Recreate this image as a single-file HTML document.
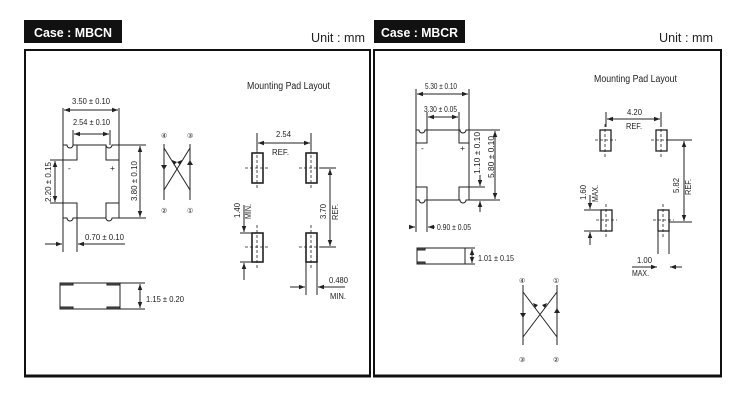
<!DOCTYPE html>
<html><head><style>
body{margin:0;background:#fff;width:739px;height:412px;overflow:hidden}
svg{display:block}
text{font-family:"Liberation Sans",sans-serif;fill:#222}
</style></head><body>
<svg width="739" height="412" viewBox="0 0 739 412" xmlns="http://www.w3.org/2000/svg">
<defs>
<marker id="a" viewBox="0 0 8 8" refX="8" refY="4" markerWidth="6" markerHeight="6" orient="auto-start-reverse"><path d="M0,1 L8,4 L0,7z" fill="#222"/></marker>
</defs>
<rect x="24" y="20" width="98" height="23" fill="#111"/>
<text x="34" y="37" font-size="13" font-weight="bold" style="fill:#fff" textLength="78" lengthAdjust="spacingAndGlyphs">Case : MBCN</text>
<text x="311" y="42" font-size="13" textLength="54" lengthAdjust="spacingAndGlyphs">Unit : mm</text>
<rect x="374" y="20" width="91" height="23" fill="#111"/>
<text x="381" y="37" font-size="13" font-weight="bold" style="fill:#fff" textLength="77" lengthAdjust="spacingAndGlyphs">Case : MBCR</text>
<text x="659" y="42" font-size="13" textLength="54" lengthAdjust="spacingAndGlyphs">Unit : mm</text>
<rect x="25" y="50" width="345" height="326" fill="none" stroke="#111" stroke-width="2"/>
<line x1="24" y1="376" x2="371" y2="376" stroke="#111" stroke-width="3"/>
<rect x="374" y="50" width="347" height="326" fill="none" stroke="#111" stroke-width="2"/>
<line x1="373" y1="376" x2="722" y2="376" stroke="#111" stroke-width="3"/>

<g stroke="#222" stroke-width="1" fill="none">
<path d="M63,145 H67 A3,3 0 0 0 73,145 H106 A3,3 0 0 0 112,145 H119 V218 H112 A3,3 0 0 1 106,218 H73 A3,3 0 0 1 67,218 H63Z"/>
<path d="M63,160 H77 V145 M119,160 H106 V145 M63,203 H77 V218 M119,203 H106 V218"/>
<line x1="63" y1="108" x2="63" y2="145"/><line x1="119" y1="108" x2="119" y2="145"/>
<line x1="64" y1="110" x2="118" y2="110" marker-start="url(#a)" marker-end="url(#a)"/>
<line x1="73" y1="130" x2="73" y2="145"/><line x1="110" y1="130" x2="110" y2="145"/>
<line x1="74" y1="134" x2="109" y2="134" marker-start="url(#a)" marker-end="url(#a)"/>
<line x1="119" y1="145" x2="146" y2="145"/><line x1="119" y1="218" x2="146" y2="218"/>
<line x1="140" y1="146" x2="140" y2="217" marker-start="url(#a)" marker-end="url(#a)"/>
<line x1="50" y1="160" x2="63" y2="160"/><line x1="50" y1="203" x2="63" y2="203"/>
<line x1="55" y1="161" x2="55" y2="202" marker-start="url(#a)" marker-end="url(#a)"/>
<line x1="63" y1="218" x2="63" y2="252"/><line x1="77" y1="218" x2="77" y2="252"/>
<line x1="45" y1="244" x2="62" y2="244" marker-end="url(#a)"/>
<line x1="125" y1="244" x2="78" y2="244" marker-end="url(#a)"/>
<rect x="60" y="283" width="60" height="26"/>
<rect x="60" y="283" width="13" height="2" fill="#555"/><rect x="107" y="283" width="13" height="2" fill="#555"/>
<rect x="60" y="307" width="13" height="2" fill="#555"/><rect x="107" y="307" width="13" height="2" fill="#555"/>
<line x1="120" y1="283" x2="145" y2="283"/><line x1="120" y1="309" x2="145" y2="309"/>
<line x1="140" y1="284" x2="140" y2="308" marker-start="url(#a)" marker-end="url(#a)"/>
<path d="M164,144 V200 M190,144 V200 M164,148 L190,190 M190,148 L164,190"/>
<rect x="252" y="153" width="11" height="30" stroke-width="1.6"/>
<rect x="306" y="153" width="11" height="30" stroke-width="1.6"/>
<rect x="252" y="233" width="11" height="29" stroke-width="1.6"/>
<rect x="306" y="233" width="11" height="29" stroke-width="1.6"/>
<g stroke-dasharray="3,2" stroke-width="0.8">
<path d="M257,145 V190 M245,168 H270 M311,145 V190 M299,168 H324 M257,225 V270 M245,247 H270 M311,225 V270 M299,247 H324"/></g>
<line x1="257" y1="133" x2="257" y2="150"/><line x1="311" y1="133" x2="311" y2="150"/>
<line x1="258" y1="143" x2="310" y2="143" marker-start="url(#a)" marker-end="url(#a)"/>
<line x1="320" y1="168" x2="336" y2="168"/><line x1="320" y1="247" x2="336" y2="247"/>
<line x1="330" y1="169" x2="330" y2="246" marker-start="url(#a)" marker-end="url(#a)"/>
<line x1="240" y1="233" x2="252" y2="233"/><line x1="240" y1="262" x2="252" y2="262"/>
<line x1="244" y1="205" x2="244" y2="232" marker-end="url(#a)"/>
<line x1="244" y1="280" x2="244" y2="263" marker-end="url(#a)"/>
<line x1="306" y1="262" x2="306" y2="295"/><line x1="317" y1="262" x2="317" y2="295"/>
<line x1="290" y1="287" x2="305" y2="287" marker-end="url(#a)"/>
<line x1="345" y1="287" x2="318" y2="287" marker-end="url(#a)"/>

<path d="M416,130 H419 A3,3 0 0 0 425,130 H460 A3,3 0 0 0 466,130 H469 V200 H466 A3,3 0 0 1 460,200 H425 A3,3 0 0 1 419,200 H416Z"/>
<path d="M416,143 H427 V130 M469,143 H459 V130 M416,187 H427 V200 M469,187 H459 V200"/>
<line x1="416" y1="89" x2="416" y2="130"/><line x1="469" y1="89" x2="469" y2="130"/>
<line x1="417" y1="94" x2="468" y2="94" marker-start="url(#a)" marker-end="url(#a)"/>
<line x1="427" y1="112" x2="427" y2="130"/><line x1="459" y1="112" x2="459" y2="130"/>
<line x1="428" y1="117" x2="458" y2="117" marker-start="url(#a)" marker-end="url(#a)"/>
<line x1="469" y1="130" x2="500" y2="130"/><line x1="469" y1="200" x2="500" y2="200"/>
<line x1="495" y1="131" x2="495" y2="199" marker-start="url(#a)" marker-end="url(#a)"/>
<line x1="469" y1="187" x2="485" y2="187"/>
<line x1="480" y1="175" x2="480" y2="186" marker-end="url(#a)"/>
<line x1="480" y1="212" x2="480" y2="201" marker-end="url(#a)"/>
<line x1="416" y1="200" x2="416" y2="232"/><line x1="427" y1="200" x2="427" y2="232"/>
<line x1="410" y1="227" x2="415" y2="227" marker-end="url(#a)"/>
<line x1="435" y1="227" x2="428" y2="227" marker-end="url(#a)"/>
<rect x="417" y="248" width="48" height="16"/>
<rect x="417" y="248" width="8" height="2" fill="#555"/><rect x="417" y="262" width="8" height="2" fill="#555"/>
<line x1="465" y1="248" x2="475" y2="248"/><line x1="465" y1="264" x2="475" y2="264"/>
<line x1="472" y1="249" x2="472" y2="263" marker-start="url(#a)" marker-end="url(#a)"/>
<path d="M523,285 V345 M557,285 V345 M523,292 L557,337 M557,292 L523,337"/>
<rect x="600" y="130" width="11" height="21" stroke-width="1.3"/>
<rect x="656" y="130" width="11" height="21" stroke-width="1.3"/>
<rect x="601" y="210" width="11" height="21" stroke-width="1.3"/>
<rect x="658" y="210" width="11" height="21" stroke-width="1.3"/>
<g stroke-dasharray="3,2" stroke-width="0.8">
<path d="M605,124 V157 M595,140 H616 M661,124 V157 M651,140 H672 M606,204 V237 M596,220 H617 M663,204 V237 M653,220 H674"/></g>
<line x1="606" y1="112" x2="606" y2="127"/><line x1="661" y1="112" x2="661" y2="127"/>
<line x1="607" y1="119" x2="660" y2="119" marker-start="url(#a)" marker-end="url(#a)"/>
<line x1="667" y1="140" x2="692" y2="140"/><line x1="669" y1="222" x2="692" y2="222"/>
<line x1="684" y1="141" x2="684" y2="221" marker-start="url(#a)" marker-end="url(#a)"/>
<line x1="584" y1="210" x2="601" y2="210"/><line x1="584" y1="231" x2="601" y2="231"/>
<line x1="590" y1="195" x2="590" y2="209" marker-end="url(#a)"/>
<line x1="590" y1="245" x2="590" y2="232" marker-end="url(#a)"/>
<line x1="658" y1="231" x2="658" y2="254"/><line x1="669" y1="231" x2="669" y2="254"/>
<line x1="632" y1="267" x2="657" y2="267" marker-end="url(#a)"/>
<line x1="682" y1="267" x2="670" y2="267" marker-end="url(#a)"/>
</g>
<g fill="#222">
<path d="M161,165 h6 l-3,5z M187,165 h6 l-3,-5z M172,160 l5,2 -3,3z M182,160 l-5,2 3,3z"/>
<path d="M520,313 h6 l-3,5z M554,313 h6 l-3,-5z M533,303 l5,2 -3,3z M547,303 l-5,2 3,3z"/>
</g>
<g font-size="8.5" lengthAdjust="spacingAndGlyphs">
<text x="247" y="89" font-size="10" textLength="83" lengthAdjust="spacingAndGlyphs">Mounting Pad Layout</text>
<text x="72" y="104" textLength="38" lengthAdjust="spacingAndGlyphs">3.50 ± 0.10</text>
<text x="73" y="125" textLength="37" lengthAdjust="spacingAndGlyphs">2.54 ± 0.10</text>
<text x="68" y="171">-</text><text x="110" y="171">+</text>
<text x="85" y="240" textLength="39" lengthAdjust="spacingAndGlyphs">0.70 ± 0.10</text>
<text x="146" y="302" textLength="38" lengthAdjust="spacingAndGlyphs">1.15 ± 0.20</text>
<text x="276" y="137" textLength="15" lengthAdjust="spacingAndGlyphs">2.54</text>
<text x="272" y="155" textLength="17" lengthAdjust="spacingAndGlyphs">REF.</text>
<text x="329" y="283" textLength="19" lengthAdjust="spacingAndGlyphs">0.480</text>
<text x="330" y="299" textLength="16" lengthAdjust="spacingAndGlyphs">MIN.</text>
<text transform="translate(51,202) rotate(-90)" textLength="40" lengthAdjust="spacingAndGlyphs">2.20 ± 0.15</text>
<text transform="translate(137,201) rotate(-90)" textLength="40" lengthAdjust="spacingAndGlyphs">3.80 ± 0.10</text>
<text transform="translate(326,219) rotate(-90)" textLength="15" lengthAdjust="spacingAndGlyphs">3.70</text>
<text transform="translate(338,220) rotate(-90)" textLength="16" lengthAdjust="spacingAndGlyphs">REF.</text>
<text transform="translate(240,218) rotate(-90)" textLength="15" lengthAdjust="spacingAndGlyphs">1.40</text>
<text transform="translate(251,219) rotate(-90)" textLength="15" lengthAdjust="spacingAndGlyphs">MIN.</text>
<text x="161" y="138" font-size="7">④</text><text x="187" y="138" font-size="7">③</text>
<text x="161" y="213" font-size="7">②</text><text x="187" y="213" font-size="7">①</text>
<text x="594" y="82" font-size="10" textLength="83" lengthAdjust="spacingAndGlyphs">Mounting Pad Layout</text>
<text x="425" y="89" textLength="32" lengthAdjust="spacingAndGlyphs">5.30 ± 0.10</text>
<text x="424" y="112" textLength="33" lengthAdjust="spacingAndGlyphs">3.30 ± 0.05</text>
<text x="421" y="151">-</text><text x="460" y="151">+</text>
<text x="437" y="230" textLength="34" lengthAdjust="spacingAndGlyphs">0.90 ± 0.05</text>
<text x="478" y="261" textLength="36" lengthAdjust="spacingAndGlyphs">1.01 ± 0.15</text>
<text x="627" y="115" textLength="15" lengthAdjust="spacingAndGlyphs">4.20</text>
<text x="626" y="129" textLength="16" lengthAdjust="spacingAndGlyphs">REF.</text>
<text x="637" y="263" textLength="15" lengthAdjust="spacingAndGlyphs">1.00</text>
<text x="632" y="276" textLength="17" lengthAdjust="spacingAndGlyphs">MAX.</text>
<text transform="translate(480,174) rotate(-90)" textLength="42" lengthAdjust="spacingAndGlyphs">1.10 ± 0.10</text>
<text transform="translate(494,178) rotate(-90)" textLength="42" lengthAdjust="spacingAndGlyphs">5.80 ± 0.10</text>
<text transform="translate(679,193) rotate(-90)" textLength="15" lengthAdjust="spacingAndGlyphs">5.82</text>
<text transform="translate(691,195) rotate(-90)" textLength="16" lengthAdjust="spacingAndGlyphs">REF.</text>
<text transform="translate(586,200) rotate(-90)" textLength="15" lengthAdjust="spacingAndGlyphs">1.60</text>
<text transform="translate(598,202) rotate(-90)" textLength="17" lengthAdjust="spacingAndGlyphs">MAX.</text>
<text x="519" y="283" font-size="7">④</text><text x="553" y="283" font-size="7">①</text>
<text x="519" y="362" font-size="7">③</text><text x="553" y="362" font-size="7">②</text>
</g>
</svg>
</body></html>
